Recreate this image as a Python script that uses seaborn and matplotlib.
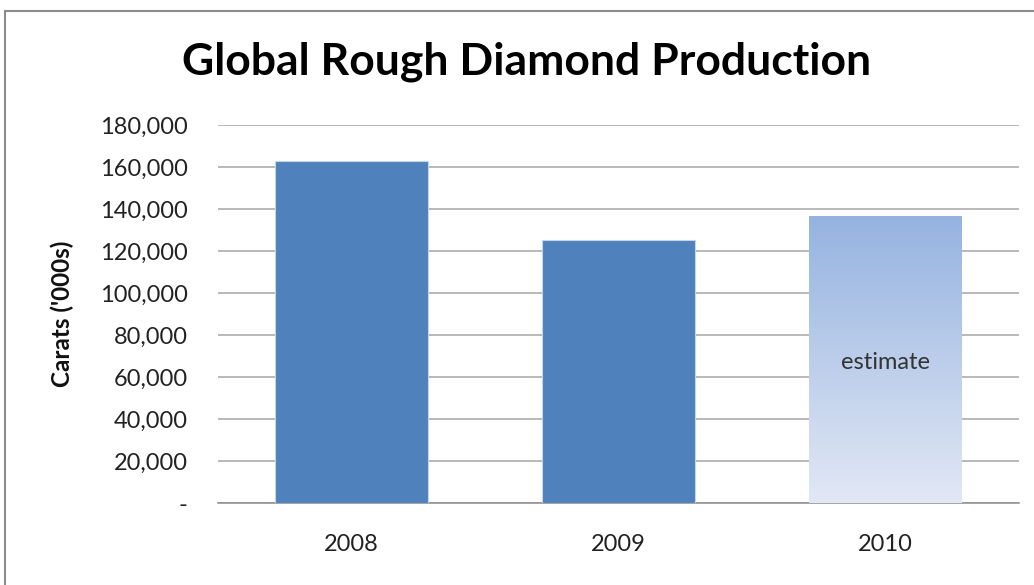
import matplotlib
matplotlib.use("Agg")
import matplotlib.pyplot as plt
import numpy as np
import pandas as pd
import seaborn as sns
from matplotlib.patches import Rectangle
from matplotlib.ticker import FuncFormatter

years = ["2008", "2009", "2010"]
carats = [163000, 125200, 136600]
estimate_label = "estimate"
title = "Global Rough Diamond Production"
ylabel = "Carats ('000s)"
yticks = [0, 20000, 40000, 60000, 80000, 100000, 120000, 140000, 160000, 180000]

sns.set_theme(style="white")
plt.rcParams['font.family'] = ['Lato', 'DejaVu Sans']

df = pd.DataFrame({"year": years, "carats": carats})

fig = plt.figure(figsize=(10.34, 5.85), dpi=100)
ax = fig.add_axes([218/1034, 1-503/585, (1019-218)/1034, (503-125)/585])

sns.barplot(data=df, x="year", y="carats", color="#4F81BD", saturation=1,
            width=0.573, ax=ax, zorder=3, edgecolor="#C6D4E8", linewidth=0.8)

# gradient fill for estimate bar
p = ax.patches[2]
p.set_facecolor("none")
p.set_edgecolor("none")
x0, y0 = p.get_x(), p.get_y()
w, h = p.get_width(), p.get_height()
top = np.array([0x95, 0xB3, 0xE0]) / 255
bot = np.array([0xE2, 0xE8, 0xF5]) / 255
t = np.linspace(0, 1, 256)[:, None]
grad = (top * (1 - t) + bot * t)[:, None, :]
im = ax.imshow(grad, extent=[x0, x0 + w, y0, y0 + h], origin="upper",
               aspect="auto", zorder=3, interpolation="bicubic")
clip = Rectangle((x0, y0), w, h, transform=ax.transData)
im.set_clip_path(clip)
ax.text(x0 + w / 2, 67000, estimate_label, ha="center", va="center",
        fontsize=17, color="#333333", zorder=4)

ax.set_xlim(-0.5, 2.5)
ax.set_ylim(0, 180000)
ax.set_yticks(yticks)
ax.yaxis.set_major_formatter(FuncFormatter(lambda v, _: "-" if v == 0 else f"{int(v):,}"))
ax.grid(axis="y", color="#A6A6A6", linewidth=1.1, zorder=0)
ax.set_axisbelow(True)
for s in ["top", "right", "left"]:
    ax.spines[s].set_visible(False)
ax.spines["bottom"].set_color("#8C8C8C")
ax.spines["bottom"].set_linewidth(1.1)
ax.tick_params(axis="y", length=0, pad=22, labelsize=17, labelcolor="#222222")
ax.tick_params(axis="x", length=0, pad=22, labelsize=17, labelcolor="#222222")
ax.set_xlabel("")
ax.set_ylabel(ylabel, fontsize=17.5, fontweight="bold", color="#111111")
ax.yaxis.set_label_coords(-0.18, 0.5)

fig.text(527/1034, 1-62/585, title, ha="center", va="center",
         fontsize=32, fontweight="bold", color="#000000")

# outer chart frame
fig.add_artist(Rectangle((5/1034, -0.05), 1.1, 1 - 11/585 + 0.05,
                         transform=fig.transFigure, fill=False,
                         edgecolor="#8C8C8C", linewidth=1.5))

fig.savefig("out.png", dpi=100)
